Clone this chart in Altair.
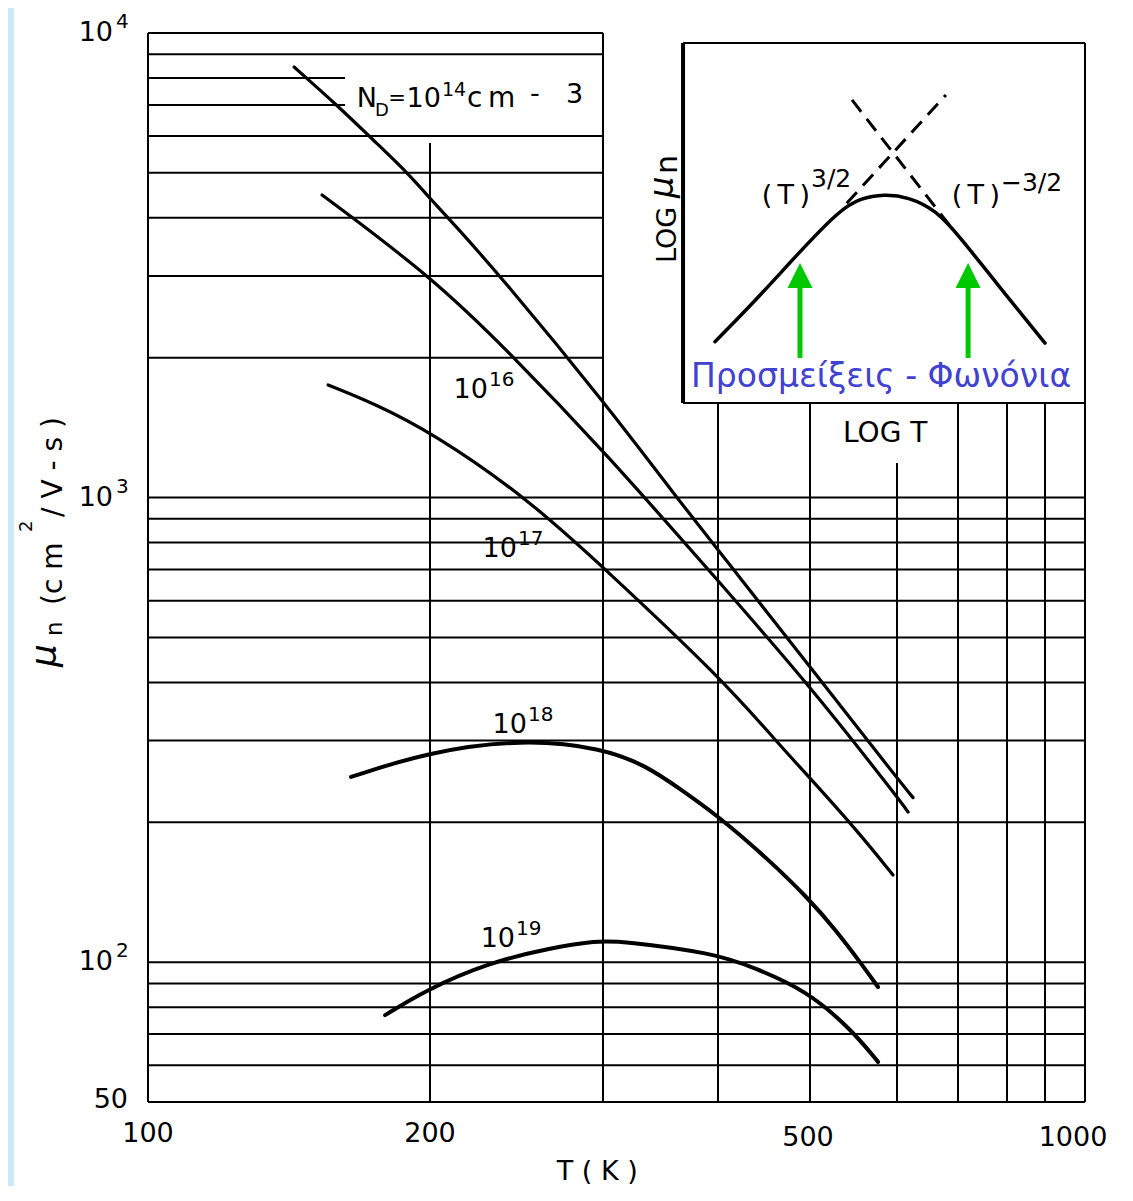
import altair as alt
import pandas as pd

# ---------------- values ----------------
# electron mobility mu_n (cm^2/V-s) versus T (K) for several donor levels
T_1e14 = [143.2, 159.1, 173.9, 189.0, 201.9, 210.6, 236.8, 301.5, 361.0, 401.9, 500, 600, 624.8]
MU_1e14 = [8449, 6999, 5885, 5021, 4306, 3920, 2969, 1598, 998, 763, 432, 249, 226]
T_1e16 = [153.4, 201.4, 239.6, 301.5, 401.9, 500, 600, 617.0]
MU_1e16 = [4481, 2969, 2078, 1253, 655, 393, 227, 210.5]
T_1e17 = [155.7, 173.9, 201.4, 251.0, 300, 401.9, 462.7, 500, 552.9, 595.0]
MU_1e17 = [1747, 1598, 1377, 998, 709, 411, 296, 249, 191, 154]
T_1e18 = [164.7, 199.0, 248.7, 299.3, 334.9, 363.8, 400, 450.5, 498.8, 526.9, 558.8, 576.6]
MU_1e18 = [250.4, 283.4, 302.2, 289.0, 264.3, 235.9, 206.4, 167.5, 136.7, 117.8, 98.1, 88.4]
T_1e19 = [179.1, 198.0, 229.1, 265.0, 295.8, 313.0, 396.0, 435.5, 495.2, 546.1, 576.6]
MU_1e19 = [76.9, 87.1, 99.6, 107.3, 111.1, 111.1, 104.6, 97.5, 87.1, 71.4, 61.0]

# curve labels: exponent and label anchor (T, mu)
LABEL_EXP = ["16", "17", "18", "19"]
LABEL_T = [229.1, 245.2, 251.0, 244.1]
LABEL_MU = [1638, 745, 311.4, 107.8]

# inset sketch (log mu vs log T), drawn in the same coordinates
INSET_T = [397, 437, 486, 532, 556, 584, 617, 662, 703, 772, 900]
INSET_MU = [2165, 2640, 3356, 4160, 4410, 4500, 4440, 4160, 3645, 2940, 2150]
DASH_UP_T = [540, 679]
DASH_UP_MU = [4300, 7357]
DASH_DOWN_T = [546, 686]
DASH_DOWN_MU = [7176, 3843]
ARROW_T = [488.0, 719.5]
ARROW_MU_FROM = [1998, 1998]
ARROW_MU_TO = [2868, 2868]
ARROW_MU_HEAD = [3006, 3006]

# grid of the hand-drawn chart paper
GRID_T = [100, 200, 300, 400, 500, 600, 700, 800, 900, 1000]
GRID_T_TOP = [10000, 5797, 10000, 1598, 1598, 1187, 1598, 1598, 1598, 9517]
H_FULL = [50, 60, 70, 80, 90, 100, 200, 300, 400, 500, 600, 700, 800, 900, 1000]
H_LEFT = [2000, 3000, 4000, 5000, 6000, 9000, 10000]
H_SHORT = [7000, 8000]
H_SHORT_END = 162.3
INSET_LEFT_T = 366.5
INSET_BOTTOM_MU = 1598
INSET_TOP_MU = 9517

# tick labels
Y_POW_VALUES = [10000, 1000, 100]
Y_POW_EXP = ["4", "3", "2"]
X_TICKS_A = [100, 200]
X_TICKS_B = [500]
X_TICKS_C = [1000]

FONT = "DejaVu Sans"
GREEN = "#00c800"
BLUE = "#4141d2"

# scale: log axis following the drawn grid positions
x_scale = alt.Scale(type="log", domain=GRID_T,
                    range=[0, 282, 455, 570, 662, 749, 810, 859, 897, 937], nice=False)
y_scale = alt.Scale(type="log", domain=[50, 10000], nice=False)


def X(f="T"):
    return alt.X(f"{f}:Q", scale=x_scale, axis=None)


def Y(f="mu"):
    return alt.Y(f"{f}:Q", scale=y_scale, axis=None)


def text(df, field="label", **kw):
    props = dict(font=FONT, color="black", baseline="alphabetic")
    props.update(kw)
    return alt.Chart(df).mark_text(**props).encode(x=X(), y=Y(), text=f"{field}:N")


layers = []

# thin light-blue margin strip at the left of the page
strip = pd.DataFrame({"T": [70.88], "T2": [71.94], "mu": [12000], "mu2": [30]})
layers.append(alt.Chart(strip).mark_rect(color="#cce8fb").encode(
    x=X(), x2="T2:Q", y=Y(), y2="mu2:Q"))

# ---- grid ----
hrules = pd.concat([
    pd.DataFrame({"mu": H_FULL, "T": 100, "T2": 1000}),
    pd.DataFrame({"mu": H_LEFT, "T": 100, "T2": 300}),
    pd.DataFrame({"mu": H_SHORT, "T": 100, "T2": H_SHORT_END}),
    pd.DataFrame({"mu": [INSET_TOP_MU, INSET_BOTTOM_MU], "T": INSET_LEFT_T, "T2": 1000}),
])
layers.append(alt.Chart(hrules).mark_rule(color="black", strokeWidth=2).encode(
    x=X(), x2="T2:Q", y=Y()))
vrules = pd.DataFrame({"T": GRID_T, "mu": 50, "mu2": GRID_T_TOP})
layers.append(alt.Chart(vrules).mark_rule(color="black", strokeWidth=2).encode(
    x=X(), y=Y(), y2="mu2:Q"))
inset_left = pd.DataFrame({"T": [INSET_LEFT_T], "mu": [INSET_BOTTOM_MU], "mu2": [INSET_TOP_MU]})
layers.append(alt.Chart(inset_left).mark_rule(color="black", strokeWidth=4).encode(
    x=X(), y=Y(), y2="mu2:Q"))

# ---- mobility curves ----
def curve_df(name, t, m):
    return pd.DataFrame({"series": name, "T": t, "mu": m})

thin = pd.concat([curve_df("1e14", T_1e14, MU_1e14),
                  curve_df("1e16", T_1e16, MU_1e16),
                  curve_df("1e17", T_1e17, MU_1e17)])
thick = pd.concat([curve_df("1e18", T_1e18, MU_1e18),
                   curve_df("1e19", T_1e19, MU_1e19)])
layers.append(alt.Chart(thin).mark_line(color="black", strokeWidth=3.2, interpolate="basis",
                                        strokeCap="round").encode(x=X(), y=Y(), detail="series:N"))
layers.append(alt.Chart(thick).mark_line(color="black", strokeWidth=4, interpolate="basis",
                                         strokeCap="round").encode(x=X(), y=Y(), detail="series:N"))

# ---- inset ----
inset = pd.DataFrame({"T": INSET_T, "mu": INSET_MU})
layers.append(alt.Chart(inset).mark_line(color="black", strokeWidth=3.5, interpolate="basis",
                                         strokeCap="round").encode(x=X(), y=Y()))
dashes = pd.concat([curve_df("up", DASH_UP_T, DASH_UP_MU), curve_df("down", DASH_DOWN_T, DASH_DOWN_MU)])
layers.append(alt.Chart(dashes).mark_line(color="black", strokeWidth=3, strokeDash=[15, 9]).encode(
    x=X(), y=Y(), detail="series:N"))
arrows = pd.DataFrame({"T": ARROW_T, "mu": ARROW_MU_FROM, "mu2": ARROW_MU_TO, "mh": ARROW_MU_HEAD})
layers.append(alt.Chart(arrows).mark_rule(color=GREEN, strokeWidth=5).encode(x=X(), y=Y(), y2="mu2:Q"))
layers.append(alt.Chart(arrows).mark_point(shape="M-1,1L1,1L0,-1Z", size=625, filled=True,
                                           color=GREEN, opacity=1, strokeWidth=0).encode(x=X(), y=Y("mh")))

# ---- curve labels 10^n ----
cl = pd.DataFrame({"T": LABEL_T, "mu": LABEL_MU, "label": "10", "exp": LABEL_EXP})
layers.append(text(cl, align="right", fontSize=27))
layers.append(text(cl, field="exp", align="left", dx=1, dy=-12, fontSize=20))

# N_D = 10^14 cm-3
nd = pd.DataFrame({"T": [205.2], "mu": [6929], "a": "10", "b": "=", "c": "D", "d": "N",
                   "e": "14", "f": "c\u2009m", "g": "-", "h": "3"})
layers.append(text(nd, field="a", align="right", fontSize=27))
layers.append(text(nd, field="b", align="right", dx=-35, dy=-2, fontSize=21))
layers.append(text(nd, field="c", align="right", dx=-52, dy=9, fontSize=18))
layers.append(text(nd, field="d", align="right", dx=-64, fontSize=27))
layers.append(text(nd, field="e", align="left", dx=1, dy=-11, fontSize=19))
layers.append(text(nd, field="f", align="left", dx=26, fontSize=28))
layers.append(text(nd, field="g", align="left", dx=89, dy=-5, fontSize=27))
layers.append(text(nd, field="h", align="left", dx=125, dy=-4, fontSize=27))

# ---- tick labels ----
yp = pd.DataFrame({"T": 100, "mu": Y_POW_VALUES, "label": "10", "exp": Y_POW_EXP})
layers.append(text(yp, align="right", baseline="middle", dx=-35, fontSize=27))
layers.append(text(yp, field="exp", align="left", baseline="middle", dx=-32, dy=-11, fontSize=20))
y50 = pd.DataFrame({"T": [100], "mu": [50], "label": ["50"]})
layers.append(text(y50, align="right", baseline="middle", dx=-20, dy=-2, fontSize=27))
xa = pd.DataFrame({"T": X_TICKS_A, "mu": 50, "label": [str(v) for v in X_TICKS_A]})
layers.append(text(xa, align="center", baseline="middle", dy=32, fontSize=27))
xb = pd.DataFrame({"T": X_TICKS_B, "mu": 50, "label": [str(v) for v in X_TICKS_B]})
layers.append(text(xb, align="center", baseline="middle", dx=-2, dy=36, fontSize=27))
xc = pd.DataFrame({"T": X_TICKS_C, "mu": 50, "label": [str(v) for v in X_TICKS_C]})
layers.append(text(xc, align="center", baseline="middle", dx=-12, dy=36, fontSize=27))

# ---- axis titles ----
xt = pd.DataFrame({"T": [296], "mu": [50], "label": ["T ( K )"]})
layers.append(text(xt, align="center", baseline="middle", dy=70, fontSize=27))

yt = pd.DataFrame({"T": [80.9], "mu": [432], "a": "μ", "b": "n", "c": "(c m", "d": "2",
                   "e": "/ V - s )"})
layers.append(text(yt, field="a", angle=270, align="left", dy=-6, fontSize=36, fontStyle="italic"))
layers.append(text(yt, field="b", angle=270, align="left", dx=31, fontSize=23))
layers.append(text(yt, field="c", angle=270, align="left", dx=62, fontSize=28))
layers.append(text(yt, field="d", angle=270, align="left", dx=135, dy=-30, fontSize=18))
layers.append(text(yt, field="e", angle=270, align="left", dx=150, fontSize=28))

# ---- inset texts ----
lg = pd.DataFrame({"T": [360.1], "mu": [3199], "a": "LOG", "b": "μ", "c": "n"})
layers.append(text(lg, field="a", angle=270, align="left", fontSize=27))
layers.append(text(lg, field="b", angle=270, align="left", dx=65, dy=-3, fontSize=34, fontStyle="italic"))
layers.append(text(lg, field="c", angle=270, align="left", dx=89, dy=1, fontSize=30))

tl = pd.DataFrame({"T": [500], "mu": [4285], "label": ["(\u2009T\u2009)"], "exp": ["3/2"]})
layers.append(text(tl, align="right", fontSize=27))
layers.append(text(tl, field="exp", align="left", dx=1, dy=-17, fontSize=25))
tr = pd.DataFrame({"T": [784.9], "mu": [4285], "label": ["(\u2009T\u2009)"], "exp": ["\u22123/2"]})
layers.append(text(tr, align="right", fontSize=27))
layers.append(text(tr, field="exp", align="left", dx=1, dy=-13, fontSize=25))

lt = pd.DataFrame({"T": [535.8], "mu": [1317], "label": ["LOG T"]})
layers.append(text(lt, align="left", fontSize=28))

gr = pd.DataFrame({"T": [373.9], "mu": [1730], "label": ["Προσμείξεις - Φωνόνια"]})
layers.append(text(gr, align="left", fontSize=33, color=BLUE))

chart = alt.layer(*layers).properties(
    width=937,
    height=1069,
    padding={"left": 140, "top": 25, "right": 40, "bottom": 84},
    autosize=alt.AutoSizeParams(type="none"),
    background="white",
).configure_view(stroke=None)

chart.save("out.html", embed_options={"renderer": "svg", "actions": False})
